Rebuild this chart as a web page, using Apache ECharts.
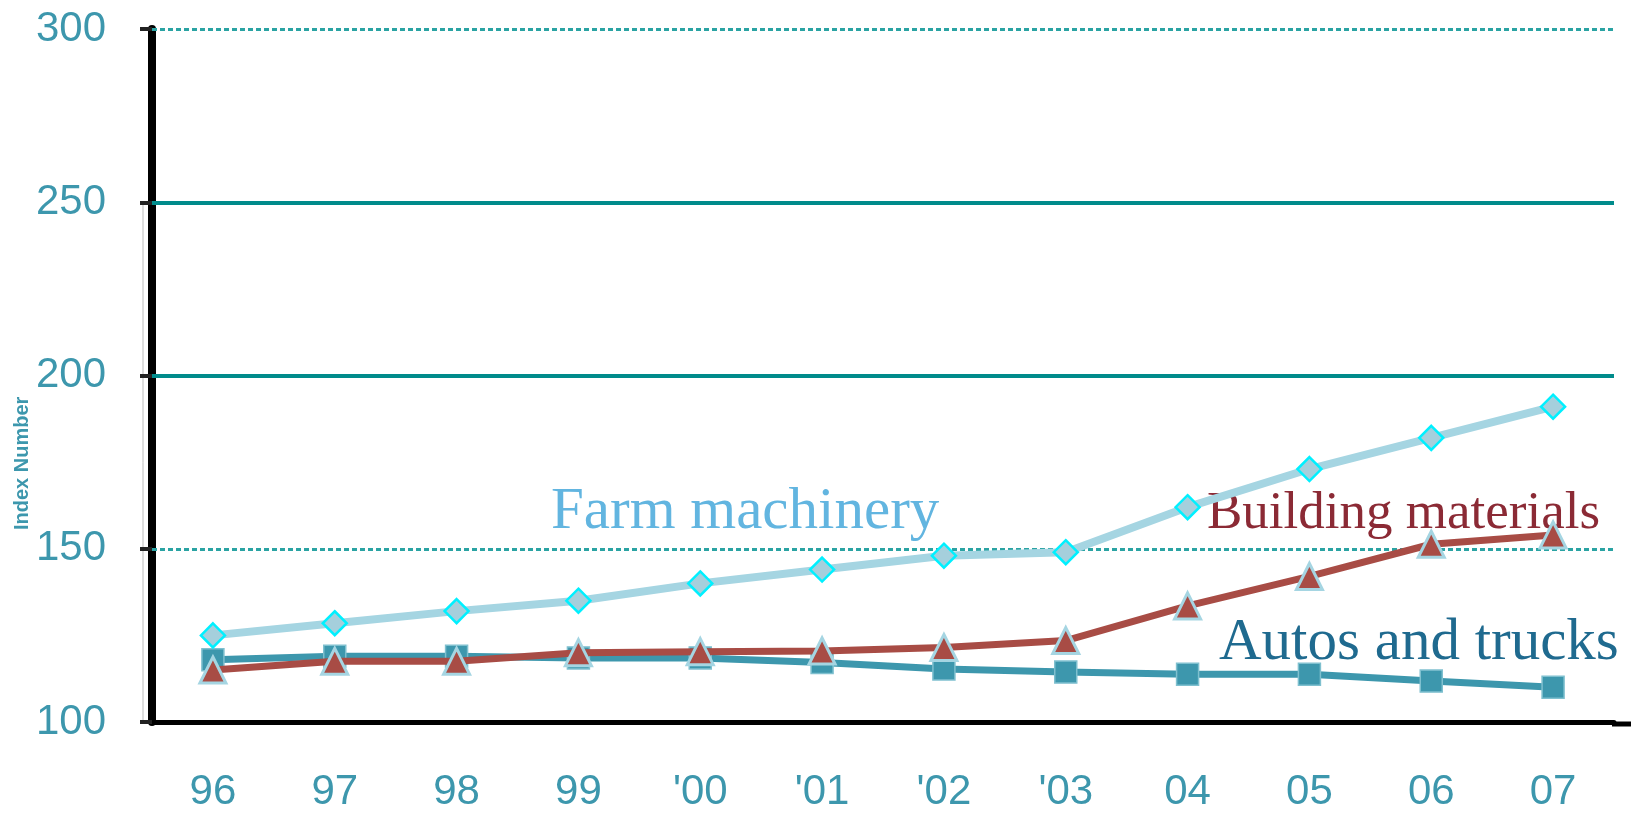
<!DOCTYPE html>
<html>
<head>
<meta charset="utf-8">
<script src="https://cdn.jsdelivr.net/npm/echarts@6/dist/echarts.min.js"></script>
<style>html,body{margin:0;padding:0;background:#fff;}#c{width:1631px;height:813px;}</style>
</head>
<body>
<div id="c"></div>
<script>
const categories = ['96','97','98','99',"'00","'01","'02","'03",'04','05','06','07'];
const farmMachinery = [125, 128.5, 132, 135, 140, 144, 148, 149, 162, 173, 182, 191];
const buildingMaterials = [115, 117.5, 117.5, 120, 120.3, 120.5, 121.5, 123.5, 133.5, 142, 151.3, 154];
const autosAndTrucks = [118, 119, 119, 118.5, 118.5, 117.2, 115.3, 114.4, 113.8, 113.8, 111.8, 110];
const yTicks = {min: 100, max: 300, interval: 50};
const solidGridValues = [200, 250];
const dottedGridValues = [150, 300];

const chart = echarts.init(document.getElementById('c'));
const teal = '#3d97ad';
const markData = [];
solidGridValues.forEach(v => markData.push({yAxis: v, lineStyle: {type: 'solid', width: 4, color: '#008b8b'}}));
dottedGridValues.forEach(v => markData.push({yAxis: v, lineStyle: {type: [5, 3], width: 3, color: '#2aa3a3'}}));

chart.setOption({
  animation: false,
  grid: {left: 152, right: 17, top: 29, bottom: 89, containLabel: false},
  xAxis: {
    type: 'category',
    data: categories,
    boundaryGap: true,
    axisLine: {show: true, lineStyle: {color: '#000', width: 5}},
    axisTick: {show: false},
    axisLabel: {color: teal, fontSize: 42, fontFamily: 'Liberation Sans, Arial, sans-serif', margin: 49}
  },
  yAxis: {
    type: 'value',
    min: yTicks.min, max: yTicks.max, interval: yTicks.interval,
    axisLine: {show: true, lineStyle: {color: '#000', width: 8}},
    axisTick: {show: true, length: 12, lineStyle: {color: '#222', width: 4}},
    splitLine: {show: false},
    axisLabel: {color: teal, fontSize: 42, fontFamily: 'Liberation Sans, Arial, sans-serif', margin: 46}
  },
  series: [
    {
      name: 'Autos and trucks', type: 'line', data: autosAndTrucks, z: 3,
      symbol: 'rect', symbolSize: 22,
      lineStyle: {color: teal, width: 7},
      itemStyle: {color: teal, borderColor: '#7fc0cf', borderWidth: 1.5},
      markLine: {silent: true, symbol: 'none', label: {show: false}, data: markData, z: 1}
    },
    {
      name: 'Building materials', type: 'line', data: buildingMaterials, z: 4,
      symbol: 'triangle', symbolSize: 26,
      lineStyle: {color: '#a84c45', width: 7},
      itemStyle: {color: '#a84c45', borderColor: '#a5d5e2', borderWidth: 3}
    },
    {
      name: 'Farm machinery', type: 'line', data: farmMachinery, z: 5,
      symbol: 'diamond', symbolSize: 24,
      lineStyle: {color: '#a5d5e2', width: 8},
      itemStyle: {color: '#a5cfdc', borderColor: '#00f0ff', borderWidth: 2.5}
    }
  ],
  graphic: [
    {type: 'line', shape: {x1: 1612, y1: 724, x2: 1631, y2: 724}, style: {stroke: '#000', lineWidth: 5}},
    {type: 'line', shape: {x1: 143, y1: 203, x2: 143, y2: 722}, style: {stroke: '#bbb', lineWidth: 1}},
    {type: 'text', left: 551, top: 483, style: {text: 'Farm machinery', fill: '#62b5e0', font: '59px "Liberation Serif", "DejaVu Serif", serif'}},
    {type: 'text', left: 1207, top: 488, style: {text: 'Building materials', fill: '#8b2a35', font: '53px "Liberation Serif", "DejaVu Serif", serif'}},
    {type: 'text', left: 1219, top: 614, style: {text: 'Autos and trucks', fill: '#1f6a8f', font: '59px "Liberation Serif", "DejaVu Serif", serif'}},
    {type: 'text', x: 12, y: 530, rotation: Math.PI / 2, style: {text: 'Index Number', fill: teal, font: 'bold 20px "Liberation Sans", Arial, sans-serif'}}
  ]
});
</script>
</body>
</html>
